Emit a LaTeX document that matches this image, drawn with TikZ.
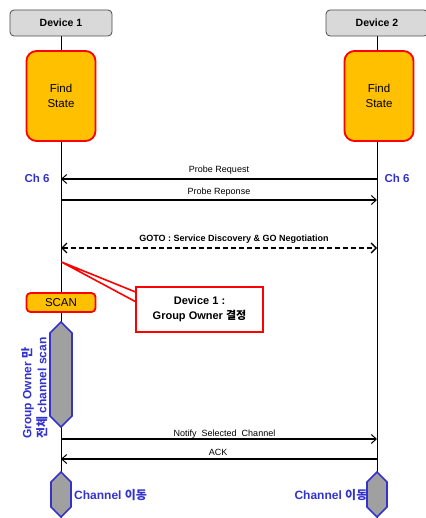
\documentclass[tikz,border=0pt]{standalone}
\usepackage{fontspec}
\setmainfont{Liberation Sans}
\newfontfamily\kr{Noto Sans CJK KR}
\usetikzlibrary{arrows.meta}
\definecolor{dblue}{RGB}{51,51,204}
\definecolor{gold}{RGB}{255,192,0}
\definecolor{boxgray}{RGB}{217,217,217}
\definecolor{hexgray}{RGB}{160,160,160}
\tikzset{
  devbox/.style={draw=black!70, fill=boxgray, rounded corners=4pt, line width=0.8pt, minimum width=102pt, minimum height=26pt, inner sep=0pt, font=\fontsize{10.5}{12}\selectfont\bfseries},
  statebox/.style={draw=red, fill=gold, rounded corners=10pt, line width=1.8pt, minimum width=69pt, minimum height=90pt, inner sep=0pt, align=center, font=\fontsize{11.5}{15}\selectfont},
  scanbox/.style={draw=red, fill=gold, rounded corners=4pt, line width=1.8pt, minimum width=69pt, minimum height=19pt, inner sep=0pt, font=\fontsize{11.5}{13}\selectfont},
  lifeline/.style={line width=1pt, black},
  msg/.style={line width=1.1pt, -{Straight Barb[length=5pt,width=9pt,line width=1pt]}},
  msglbl/.style={font=\fontsize{9}{10}\selectfont, inner sep=0pt},
  chlbl/.style={font=\fontsize{11.5}{13}\selectfont\bfseries, text=dblue, inner sep=0pt},
  hexa/.style={draw=dblue, fill=hexgray, line width=1.6pt, line join=miter},
  bluetxt/.style={font=\fontsize{12}{15}\selectfont\bfseries, text=dblue, inner sep=0pt},
}
\begin{document}
\begin{tikzpicture}[x=1pt,y=-1pt]
\useasboundingbox (0,0) rectangle (425,518);
% lifelines
\coordinate (l1top) at (61,36);
\coordinate (l1bot) at (61,518);
\coordinate (l2top) at (377,36);
\coordinate (l2bot) at (377,518);
\draw[lifeline] (l1top) -- (l1bot);
\draw[lifeline] (l2top) -- (l2bot);
% device boxes
\node[devbox] (dev1) at (61,23) {Device 1};
\node[devbox] (dev2) at (377,23) {Device 2};
% find state
\node[statebox] (find1) at (61,96) {Find\\State};
\node[statebox] (find2) at (379,96) {Find\\State};
% ch labels
\node[chlbl] (ch1) at (37,178) {Ch 6};
\node[chlbl] (ch2) at (397,178) {Ch 6};
% messages
\coordinate (pr2) at (377,179); \coordinate (pr1) at (61,179);
\draw[msg] (pr2) -- node[msglbl, above=4pt] (prl) {Probe Request} (pr1);
\coordinate (ps1) at (61,200); \coordinate (ps2) at (377,200);
\draw[msg] (ps1) -- node[msglbl, above=3pt] (psl) {Probe Reponse} (ps2);
\coordinate (g1) at (61,248); \coordinate (g2) at (377,248);
\draw[line width=1.6pt, dash pattern=on 5pt off 3pt, {Straight Barb[length=5pt,width=10pt,line width=1.4pt]}-{Straight Barb[length=5pt,width=10pt,line width=1.4pt]}] (g1) -- (g2);
\node[msglbl, font=\fontsize{9}{10}\selectfont\bfseries] (gl) at (234,239) {GOTO : Service Discovery \& GO Negotiation};
% callout
\coordinate (tip) at (61.5,262);
\draw[red, line width=1.6pt, fill=white, line join=miter] (tip) -- (138,293) -- (138,303) -- cycle;
\node[draw=red, fill=white, line width=1.8pt, minimum width=127pt, minimum height=45pt, inner sep=0pt, align=center, font=\fontsize{11}{15}\selectfont\bfseries] (call) at (199.5,309.5) {Device 1 :\\Group Owner {\kr 결정}};
% scan
\node[scanbox] (scan) at (61,302.5) {SCAN};
% hexagon scanning
\draw[hexa] (61,322) -- (72,333) -- (72,416) -- (61,427) -- (50,416) -- (50,333) -- cycle;
\node[bluetxt, rotate=90, anchor=west, align=left] (gotxt) at (34.5,439) {Group Owner {\kr 만}\\{\kr 전체} channel scan};
% notify / ack
\coordinate (n1) at (61,439); \coordinate (n2) at (377,439);
\draw[msg] (n1) -- (n2);
\node[msglbl] (nl) at (224.5,434) {Notify\ \ Selected\ \ Channel};
\coordinate (a2) at (377,459); \coordinate (a1) at (61,459);
\draw[msg] (a2) -- (a1);
\node[msglbl] (al) at (218,452) {ACK};
% bottom hexagons
\draw[hexa] (61,472) -- (71,482) -- (71,507) -- (61,517) -- (51,507) -- (51,482) -- cycle;
\draw[hexa] (377,472) -- (387,482) -- (387,507) -- (377,517) -- (367,507) -- (367,482) -- cycle;
\node[bluetxt, anchor=west] (chm1) at (74,495) {Channel {\kr 이동}};
\node[bluetxt, anchor=east] (chm2) at (367.5,495) {Channel {\kr 이동}};
\end{tikzpicture}
\end{document}
